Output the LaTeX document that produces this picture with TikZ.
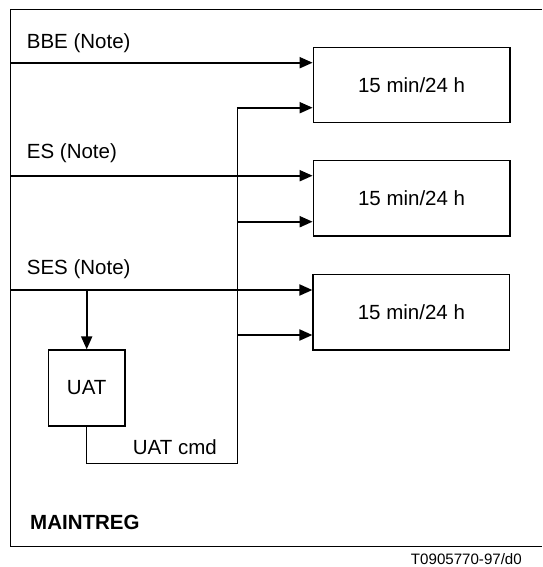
\documentclass[tikz,border=0pt]{standalone}
\usepackage{fontspec}
\setmainfont{Liberation Sans}
\usetikzlibrary{arrows.meta}
\begin{document}
\begin{tikzpicture}[x=1pt,y=-1pt,
  lbl/.style={inner sep=0pt,font=\fontsize{20.5}{24}\selectfont},
  ctr/.style={draw,line width=1.3pt,inner sep=0pt},
  sig/.style={line width=2pt,-{Triangle[length=13pt,width=11pt]}},
  thin/.style={line width=1.2pt},
  thinarr/.style={line width=2pt,-{Triangle[length=13pt,width=11pt]}}]
\useasboundingbox (0,0) rectangle (542,567);
% frame (open on the right)
\draw[line width=1.4pt] (542,9.7) -- (10.7,9.7) -- (10.7,546.7) -- (542,546.7);
% counters
\node[ctr,minimum width=196.7pt,minimum height=75.4pt] (c1) at (411.6,85) {};
\node[ctr,minimum width=196.7pt,minimum height=75.4pt] (c2) at (411.6,198.4) {};
\node[ctr,minimum width=196.7pt,minimum height=75.7pt] (c3) at (411.4,312.1) {};
\node[lbl] at (c1.center) {15 min/24 h};
\node[lbl] at (c2.center) {15 min/24 h};
\node[lbl] at (c3.center) {15 min/24 h};
% UAT box
\node[ctr,minimum width=76.7pt,minimum height=76pt] (uat) at (86.7,388) {};
\node[lbl] at (uat.center) {UAT};
% inputs
\coordinate (bbe) at (10.7,62.7);
\coordinate (es) at (10.7,175.7);
\coordinate (ses) at (10.7,290);
\node[lbl,anchor=west] at (26.7,43) {BBE (Note)};
\node[lbl,anchor=west] at (26.7,152.7) {ES (Note)};
\node[lbl,anchor=west] at (26.7,269.3) {SES (Note)};
\draw[sig] (bbe) -- (c1.west |- bbe);
\draw[sig] (es) -- (c2.west |- es);
\draw[sig] (ses) -- (c3.west |- ses);
\coordinate (sesb) at (86.7,290);
\draw[sig] (sesb) -- (uat.north);
% UAT cmd distribution
\coordinate (cmdc) at (86.7,463.3);
\coordinate (bus) at (237.5,463.3);
\coordinate (bustop) at (237.5,107.7);
\draw[thin] (uat.south) -- (cmdc) -- (bus) -- (bustop);
\draw[sig] ([xshift=-0.6pt]bustop) -- (c1.west |- bustop);
\coordinate (b2) at (237.5,221.7);
\coordinate (b3) at (237.5,335);
\draw[sig] (b2) -- (c2.west |- b2);
\draw[sig] (b3) -- (c3.west |- b3);
\node[lbl,anchor=west] at (132.7,446.7) {UAT cmd};
\node[lbl,anchor=west,font=\fontsize{20.5}{24}\selectfont\bfseries] at (30,522.3) {MAINTREG};
\node[inner sep=0pt,anchor=east,font=\fontsize{15.1}{18}\selectfont] at (522,559) {T0905770-97/d0};
\end{tikzpicture}
\end{document}
